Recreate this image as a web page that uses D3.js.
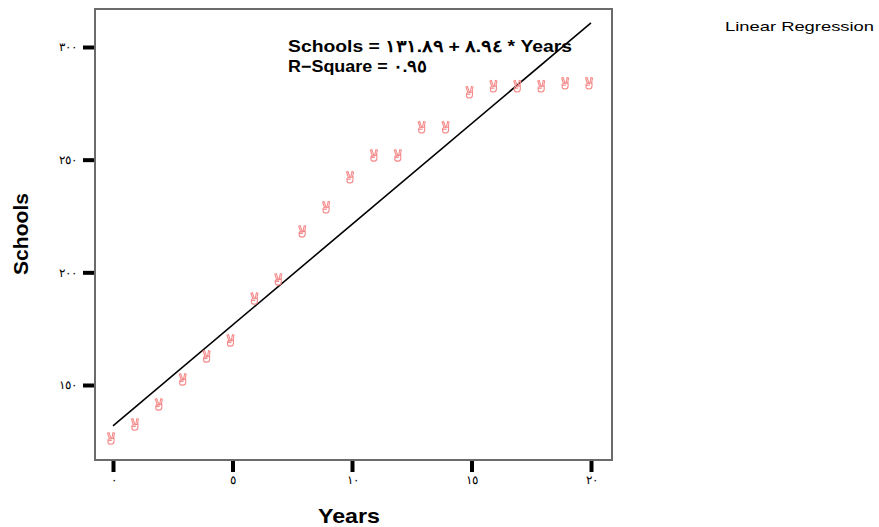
<!DOCTYPE html>
<html>
<head>
<meta charset="utf-8">
<script src="https://cdn.jsdelivr.net/npm/d3@7"></script>
<style>
  html, body { margin: 0; padding: 0; background: #fff; }
  svg { display: block; }
</style>
</head>
<body>
<svg id="chart" width="879" height="527"></svg>
<script>
// ---- data ----
const years = [0,1,2,3,4,5,6,7,8,9,10,11,12,13,14,15,16,17,18,19,20];
const schools = [126.4,132.6,141.5,152.6,162.8,169.9,188.5,197,218.3,229,242.3,252,252,264.5,264.5,280,282.7,282.7,282.7,284,284];
const intercept = 131.89;
const slope = 8.94;
const xTicks = [0,5,10,15,20];
const yTicks = [150,200,250,300];
const equationLines = ["Schools = ١٣١.٨٩ + ٨.٩٤ * Years", "R\u2212Square = ٠.٩٥"];
const legendTitle = "Linear Regression";
const xTitle = "Years", yTitle = "Schools";

const toArabic = n => String(n).replace(/[0-9]/g, d => "٠١٢٣٤٥٦٧٨٩"[+d]);

const svg = d3.select("#chart");
const font = "'Liberation Sans', Arial, sans-serif";

// frame
const frame = {left: 95, right: 612, top: 9, bottom: 460};
const x = d3.scaleLinear().domain([0, 20]).range([113, 591]);
const y = d3.scaleLinear().domain([150, 300]).range([385, 47]);

svg.append("rect")
  .attr("x", frame.left).attr("y", frame.top)
  .attr("width", frame.right - frame.left).attr("height", frame.bottom - frame.top)
  .attr("fill", "none").attr("stroke", "#6b6b6b").attr("stroke-width", 2);

// y axis
const yAxis = d3.axisLeft(y).tickValues(yTicks).tickSize(11).tickPadding(6)
  .tickFormat(toArabic);
const gy = svg.append("g").attr("transform", `translate(${frame.left - 1},0)`).call(yAxis);
gy.select(".domain").remove();
gy.selectAll(".tick line").attr("stroke", "#000").attr("stroke-width", 4);
gy.selectAll(".tick text").attr("font-family", font).attr("font-size", 11.5)
  .attr("letter-spacing", 3).attr("fill", "#000")
  .attr("direction", "ltr").attr("unicode-bidi", "bidi-override");

// x axis
const xAxis = d3.axisBottom(x).tickValues(xTicks).tickSize(11).tickPadding(4)
  .tickFormat(toArabic);
const gx = svg.append("g").attr("transform", `translate(0,${frame.bottom + 1})`).call(xAxis);
gx.select(".domain").remove();
gx.selectAll(".tick line").attr("stroke", "#000").attr("stroke-width", 4);
gx.selectAll(".tick text").attr("font-family", font).attr("font-size", 11.5)
  .attr("letter-spacing", 2.5).attr("fill", "#000")
  .attr("direction", "ltr").attr("unicode-bidi", "bidi-override");

// regression line
const line = d3.line().x(d => x(d)).y(d => y(intercept + slope * d));
svg.append("path").datum([0, 20]).attr("d", line)
  .attr("fill", "none").attr("stroke", "#000").attr("stroke-width", 1.6);

// victory-hand marker drawn as a custom d3 symbol
const victory = {
  draw(ctx) {
    ctx.moveTo(-3, 1);
    ctx.lineTo(-3, 4);
    ctx.quadraticCurveTo(-3, 6, 0, 6);
    ctx.quadraticCurveTo(3, 6, 3, 3);
    ctx.lineTo(3, 0);
    ctx.lineTo(-3, 1);
    ctx.moveTo(-3, 2.5);
    ctx.lineTo(1, 2);
    ctx.moveTo(-1.5, 0.8);
    ctx.lineTo(-3.5, -5);
    ctx.lineTo(-2, -5.5);
    ctx.lineTo(0, 0.4);
    ctx.moveTo(0.8, 0.3);
    ctx.lineTo(2, -5.5);
    ctx.lineTo(3.5, -5);
    ctx.lineTo(2.5, 0);
  }
};
svg.append("g").selectAll("path").data(years).join("path")
  .attr("transform", (d, i) => `translate(${x(d) - 2},${y(schools[i])})`)
  .attr("d", d3.symbol().type(victory)())
  .attr("fill", "none")
  .attr("stroke", "#f58a8a")
  .attr("stroke-width", 1.1);

// equation text
const eqWidths = [284, 139];
svg.append("g").selectAll("text").data(equationLines).join("text")
  .attr("x", 288).attr("y", (d, i) => 52 + i * 19.5)
  .attr("font-family", font).attr("font-weight", "bold").attr("font-size", 16.5)
  .attr("fill", "#000").attr("direction", "ltr").attr("unicode-bidi", "bidi-override")
  .attr("textLength", (d, i) => eqWidths[i]).attr("lengthAdjust", "spacingAndGlyphs")
  .text(d => d);

// legend title
svg.append("text").attr("x", 725).attr("y", 30.5)
  .attr("font-family", font).attr("font-size", 13.5).attr("fill", "#000")
  .attr("textLength", 149).attr("lengthAdjust", "spacingAndGlyphs")
  .text(legendTitle);

// axis titles
svg.append("text").attr("x", 318).attr("y", 523)
  .attr("font-family", font).attr("font-weight", "bold").attr("font-size", 20.5)
  .attr("textLength", 62).attr("lengthAdjust", "spacingAndGlyphs")
  .text(xTitle);
svg.append("text")
  .attr("transform", "translate(28,275) rotate(-90)")
  .attr("font-family", font).attr("font-weight", "bold").attr("font-size", 20.5)
  .attr("textLength", 82).attr("lengthAdjust", "spacingAndGlyphs")
  .text(yTitle);
</script>
</body>
</html>
